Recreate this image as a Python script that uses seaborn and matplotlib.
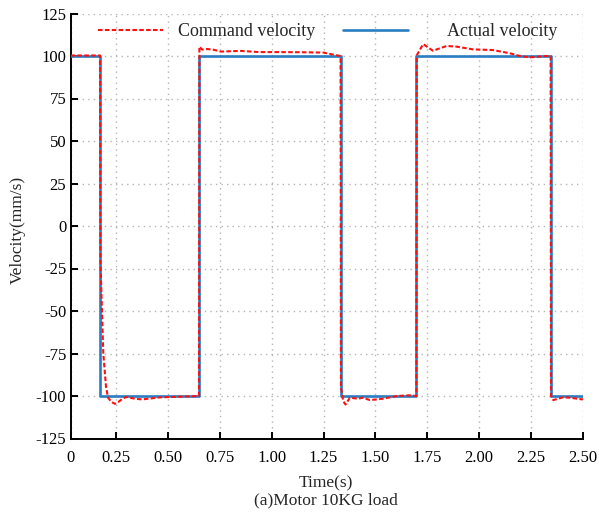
import matplotlib
matplotlib.use("Agg")
import matplotlib.pyplot as plt
import seaborn as sns
import pandas as pd
from matplotlib.lines import Line2D

# ---- data ----
actual_t = [0.031, 0.173, 0.173, 0.650, 0.650, 1.332, 1.332, 1.697, 1.697, 2.344, 2.344, 2.500]
actual_v = [100, 100, -100, -100, 100, 100, -100, -100, 100, 100, -100, -100]

command_t = [0.031, 0.173, 0.175, 0.189, 0.202, 0.212, 0.228, 0.245, 0.262, 0.279, 0.295, 0.308,
             0.325, 0.342, 0.375, 0.414, 0.462, 0.534, 0.600, 0.650,
             0.652, 0.665, 0.690, 0.720, 0.756, 0.850, 0.940, 1.040, 1.150, 1.250, 1.310, 1.332,
             1.334, 1.345, 1.356, 1.377, 1.416, 1.440, 1.473, 1.536, 1.604, 1.666, 1.697,
             1.699, 1.730, 1.777, 1.843, 1.891, 1.970, 2.066, 2.148, 2.196, 2.244, 2.325, 2.344,
             2.346, 2.357, 2.403, 2.437, 2.484, 2.500]
command_v = [100.3, 100.3, -20, -75, -94.5, -101, -103.5, -104.6, -103.5, -101.8, -100.8, -100.6,
             -101.2, -101.6, -102, -101.5, -100.8, -100.5, -100.2, -100,
             105.5, 103.8, 104.1, 103.7, 102.6, 103, 102.3, 102.3, 102.2, 102, 100.5, 100,
             -95, -103, -105, -101, -101.6, -101, -102.4, -101.6, -100, -99.6, -100,
             100.4, 107, 103.1, 105.9, 105.5, 103.9, 103.5, 101.6, 100, 99.2, 100, 100,
             -100, -102.4, -100.8, -101, -101.8, -102]

x_ticks = [0.031, 0.25, 0.50, 0.75, 1.00, 1.25, 1.50, 1.75, 2.00, 2.25, 2.50]
x_tick_labels = ["0", "0.25", "0.50", "0.75", "1.00", "1.25", "1.50", "1.75", "2.00", "2.25", "2.50"]
y_ticks = [-125, -100, -75, -50, -25, 0, 25, 50, 75, 100, 125]

df_act = pd.DataFrame({"t": actual_t, "v": actual_v})
df_cmd = pd.DataFrame({"t": command_t, "v": command_v})

sns.set_theme(style="white")
plt.rcParams["font.family"] = ["Liberation Serif", "DejaVu Serif"]
plt.rcParams["mathtext.fontset"] = "stix"

W, H = 599, 513
fig = plt.figure(figsize=(W / 100, H / 100), dpi=100)
ax = fig.add_axes([70.5 / W, 1 - 438.5 / H, (583 - 70.5) / W, (438.5 - 13.5) / H])

blue = "#2a7dc2"
red = "#ff1010"

sns.lineplot(data=df_act, x="t", y="v", ax=ax, estimator=None, sort=False,
             color=blue, linewidth=1.9, zorder=3)
sns.lineplot(data=df_cmd, x="t", y="v", ax=ax, estimator=None, sort=False,
             color=red, linewidth=1.5, zorder=4)
lines = ax.get_lines()
lines[-1].set_dashes([2.2, 1.1])

ax.set_xlim(0.031, 2.5)
ax.set_ylim(-125, 125)
ax.set_xticks(x_ticks)
ax.set_xticklabels(x_tick_labels)
ax.set_yticks(y_ticks)
ax.set_yticklabels([str(v) for v in y_ticks])
ax.set_xlabel("")
ax.set_ylabel("")

ax.grid(True, linestyle=(0, (1, 3)), color="#b5b5b5", linewidth=1.0)
ax.set_axisbelow(True)
for s in ["top", "right"]:
    ax.spines[s].set_visible(False)
for s in ["left", "bottom"]:
    ax.spines[s].set_color("black")
    ax.spines[s].set_linewidth(1.4)
ax.tick_params(axis="both", direction="in", length=5, width=1.4, colors="black",
               labelsize=12, left=True, bottom=True)
ax.tick_params(axis="x", pad=8)
ax.tick_params(axis="y", pad=3)

# legends
h1 = Line2D([0], [0], color=red, linewidth=1.5, dashes=[2.2, 1.1])
h2 = Line2D([0], [0], color=blue, linewidth=1.9)
leg1 = ax.legend(handles=[h1], labels=["Command velocity"], loc="center left",
                 bbox_to_anchor=(98 / W, 1 - 31.7 / H), bbox_transform=fig.transFigure,
                 frameon=False, fontsize=13, handlelength=3.6, handletextpad=0.83,
                 borderpad=0, borderaxespad=0)
ax.add_artist(leg1)
ax.legend(handles=[h2], labels=["Actual velocity"], loc="center left",
          bbox_to_anchor=(343 / W, 1 - 31.7 / H), bbox_transform=fig.transFigure,
          frameon=False, fontsize=13, handlelength=3.6, handletextpad=2.16,
          borderpad=0, borderaxespad=0)

fig.text(18 / W, 1 - 230 / H, "Velocity(mm/s)", rotation=90, ha="center", va="center", fontsize=12.5)
fig.text(326 / W, 1 - 483 / H, "Time(s)", ha="center", va="center", fontsize=12.5)
fig.text(326 / W, 1 - 500 / H, "(a)Motor 10KG load", ha="center", va="center", fontsize=12.5)

fig.savefig("out.png", dpi=100)
